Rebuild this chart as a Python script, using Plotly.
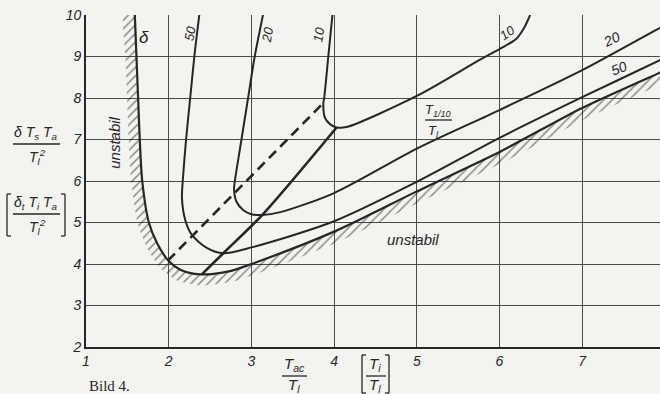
import numpy as np
import plotly.graph_objects as go

# curves, x = Tac/Tl, y = delta*Ts*Ta/Tl^2
bound_x = [1.59, 1.61, 1.63, 1.65, 1.68, 1.76, 1.86, 2.0, 2.14, 2.38, 2.74, 3.0, 4.0, 5.0, 6.0, 7.0, 7.95, 8.05]
bound_y = [10.0, 9.0, 8.0, 7.0, 6.0, 5.0, 4.5, 4.07, 3.86, 3.75, 3.83, 4.0, 4.78, 5.75, 6.70, 7.76, 8.62, 8.71]

c50_x = [2.37, 2.31, 2.26, 2.21, 2.17, 2.16, 2.2, 2.28, 2.46, 2.66, 3.0, 4.0, 5.0, 6.0, 7.0, 7.95, 8.05]
c50_y = [10.0, 9.0, 8.0, 7.0, 6.0, 5.6, 5.06, 4.7, 4.39, 4.26, 4.4, 5.03, 5.98, 7.04, 8.02, 8.92, 9.02]

c20_x = [3.14, 3.04, 2.96, 2.88, 2.80, 2.79, 2.82, 2.9, 3.0, 3.13, 3.35, 4.0, 5.0, 6.0, 7.0, 7.95, 8.05]
c20_y = [10.0, 9.0, 8.0, 7.0, 6.0, 5.8, 5.5, 5.3, 5.2, 5.18, 5.25, 5.71, 6.78, 7.71, 8.67, 9.7, 9.8]

c10_x = [3.98, 3.93, 3.88, 3.87, 3.89, 3.95, 4.03, 4.15, 5.0, 5.76, 6.0, 6.2, 6.3, 6.37]
c10_y = [10.0, 9.0, 8.0, 7.88, 7.52, 7.37, 7.29, 7.30, 8.05, 8.92, 9.18, 9.42, 9.7, 10.0]

opt_x = [2.40, 2.66, 3.13, 4.03]
opt_y = [3.75, 4.26, 5.18, 7.29]

dash_x = [1.99, 3.87]
dash_y = [4.08, 7.88]

x_ticks = [1, 2, 3, 4, 5, 6, 7, 8]
y_ticks = [2, 3, 4, 5, 6, 7, 8, 9, 10]

W, H = 660, 394
L, R, T, B = 86, 0, 15, 47
sx = 82.7
sy = 41.5
XR = [1, 1 + (W - L - R) / sx]
YR = [2, 10]

ink = '#262626'
paper = '#f3f3f0'
font = 'Liberation Sans'


def px(x):
    return (x - L) / (W - L - R)


def py(y):
    return (H - B - y) / (H - T - B)


# hatched band on the unstable side of the limit curve
bx = np.array(bound_x)
by = np.array(bound_y)
dx = np.gradient(bx * sx)
dy = np.gradient(by * sy)
n = np.hypot(dx, dy)
off = 11
ox = bx + dy / n * off / sx
oy = by - dx / n * off / sy

fig = go.Figure()
fig.add_trace(go.Scatter(x=list(bx) + list(ox[::-1]) + [bx[0]], y=list(by) + list(oy[::-1]) + [by[0]],
                         mode='lines', fill='toself', line=dict(width=0, shape='spline', smoothing=0.6),
                         fillcolor='rgba(0,0,0,0)',
                         fillpattern=dict(shape='/', size=6, solidity=0.25, fgcolor='#222', bgcolor='rgba(0,0,0,0)'),
                         hoverinfo='skip', showlegend=False))

for xs, ys, w in [(bound_x, bound_y, 2.2), (c50_x, c50_y, 2), (c20_x, c20_y, 2), (c10_x, c10_y, 2), (opt_x, opt_y, 2.6)]:
    fig.add_trace(go.Scatter(x=xs, y=ys, mode='lines', line=dict(color=ink, width=w, shape='spline', smoothing=0.8),
                             showlegend=False))
fig.add_trace(go.Scatter(x=dash_x, y=dash_y, mode='lines', line=dict(color=ink, width=2.6, dash='10px,6px'),
                         showlegend=False))

ann = []


def txt(x, y, s, size=14, ref='data', angle=0, fam=font, style='italic'):
    ann.append(dict(x=x, y=y, xref='x' if ref == 'data' else 'paper', yref='y' if ref == 'data' else 'paper',
                    text=s, showarrow=False, textangle=angle, xanchor='center', yanchor='middle',
                    font=dict(family=fam, size=size, color=ink, style=style)))


txt(1.70, 9.45, 'δ', 17)
txt(2.26, 9.55, '50', 13, angle=-80)
txt(3.20, 9.52, '20', 13, angle=-80)
txt(3.82, 9.52, '10', 13, angle=-80)
txt(6.10, 9.57, '10', 13, angle=-35)
txt(7.36, 9.42, '20', 14, angle=-25)
txt(7.45, 8.72, '50', 14, angle=-22)
txt(1.35, 6.92, 'unstabil', 15, angle=-90)
txt(4.95, 4.58, 'unstabil', 15)

# fraction labels (text in paper coords)
txt(px(438), py(110), 'T<sub>1/10</sub>', 13, ref='paper')
txt(px(433), py(131), 'T<sub>l</sub>', 13, ref='paper')
txt(px(36), py(133), 'δ T<sub>s</sub> T<sub>a</sub>', 14, ref='paper')
txt(px(38), py(157), 'T<sub>l</sub><sup>2</sup>', 14, ref='paper')
txt(px(36), py(203), 'δ<sub>t</sub> T<sub>i</sub> T<sub>a</sub>', 14, ref='paper')
txt(px(38), py(227), 'T<sub>l</sub><sup>2</sup>', 14, ref='paper')
txt(px(294), py(364), 'T<sub>ac</sub>', 15, ref='paper')
txt(px(294), py(386), 'T<sub>l</sub>', 15, ref='paper')
txt(px(375), py(364), 'T<sub>i</sub>', 15, ref='paper')
txt(px(375), py(386), 'T<sub>l</sub>', 15, ref='paper')
txt(px(109), py(386), 'Bild 4.', 15, ref='paper', fam='Liberation Serif', style='normal')

shapes = []


def seg(x0, y0, x1, y1, w=1.3):
    shapes.append(dict(type='line', xref='paper', yref='paper', x0=px(x0), y0=py(y0), x1=px(x1), y1=py(y1),
                       line=dict(color=ink, width=w)))


def bracket(x0, x1, y0, y1):
    seg(x0, y0, x0, y1)
    seg(x0, y0, x0 + 4, y0)
    seg(x0, y1, x0 + 4, y1)
    seg(x1, y0, x1, y1)
    seg(x1, y0, x1 - 4, y0)
    seg(x1, y1, x1 - 4, y1)


seg(425, 120, 452, 120)
seg(13, 144, 60, 144)
seg(13, 214, 60, 214)
bracket(7, 65, 194, 236)
seg(282, 376, 307, 376)
seg(366, 376, 386, 376)
bracket(362, 389, 355, 393)

fig.update_layout(width=W, height=H, margin=dict(l=L, r=R, t=T, b=B),
                  paper_bgcolor=paper, plot_bgcolor=paper,
                  annotations=ann, shapes=shapes)
fig.update_xaxes(range=XR, tickvals=x_ticks, showgrid=True, gridcolor='#4a4a4a', gridwidth=1, automargin=False,
                 zeroline=False, showline=True, linecolor=ink, linewidth=1.6, ticks='',
                 tickfont=dict(family=font, size=14, color=ink, style='italic'))
fig.update_yaxes(range=YR, tickvals=y_ticks, showgrid=True, gridcolor='#4a4a4a', gridwidth=1, automargin=False,
                 zeroline=False, showline=True, linecolor=ink, linewidth=1.6, ticks='', mirror=True,
                 tickfont=dict(family=font, size=14, color=ink, style='italic'))
# drop the page's default body margin so the figure sits at the window's corner
fig.write_html('out.html', config={'displayModeBar': False},
               post_script="document.body.style.margin='0px';")
